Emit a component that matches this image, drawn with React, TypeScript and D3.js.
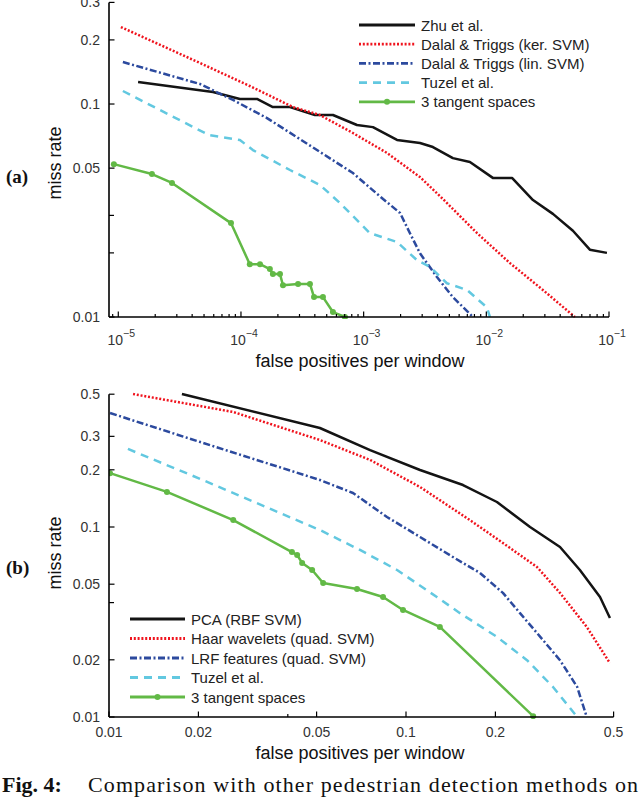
import React from "react";
import * as d3 from "d3";

// ---- panel (a) data: false positives per window vs miss rate ----
const zhuFppw = [1.45e-5, 5.91e-5, 9.8e-5, 1.35e-4, 1.82e-4, 2.51e-4, 4.01e-4, 5.62e-4, 8.82e-4, 1.19e-3, 1.87e-3, 2.88e-3, 3.67e-3, 5.34e-3, 7.35e-3, 1.13e-2, 1.62e-2, 2.4e-2, 3.49e-2, 5.08e-2, 6.98e-2, 9.62e-2];
const zhuMiss = [0.1268, 0.1138, 0.1056, 0.1056, 0.0968, 0.0968, 0.0888, 0.0888, 0.0797, 0.0779, 0.0678, 0.0656, 0.0628, 0.0557, 0.0534, 0.045, 0.045, 0.0354, 0.0305, 0.0254, 0.0207, 0.02];

const kerFppw = [1.05e-5, 4.63e-5, 1.18e-4, 2.65e-4, 4.4e-4, 8.18e-4, 1.55e-3, 2.88e-3, 4.43e-3, 8.38e-3, 1.56e-2, 2.89e-2, 5.27e-2];
const kerMiss = [0.2299, 0.1558, 0.1215, 0.0968, 0.0888, 0.0731, 0.0589, 0.0454, 0.0358, 0.0248, 0.0179, 0.0134, 0.01];

const linFppw = [1.09e-5, 4.63e-5, 8.61e-5, 1.63e-4, 4.4e-4, 8.18e-4, 1.44e-3, 1.98e-3, 2.38e-3, 2.88e-3, 3.96e-3, 5.34e-3, 7.78e-3];
const linMiss = [0.1574, 0.1242, 0.1045, 0.0859, 0.0596, 0.0474, 0.0358, 0.0308, 0.0248, 0.0199, 0.0154, 0.0124, 0.01];

const tuzelAFppw = [1.09e-5, 5.48e-5, 9.8e-5, 1.25e-4, 2.51e-4, 4.4e-4, 6.41e-4, 1.12e-3, 1.87e-3, 2.72e-3, 3.47e-3, 4.77e-3, 6.95e-3, 1.01e-2, 1.07e-2];
const tuzelAMiss = [0.1151, 0.0715, 0.0678, 0.0608, 0.049, 0.0417, 0.0343, 0.0248, 0.0225, 0.0185, 0.0172, 0.0144, 0.0134, 0.0111, 0.01];

const tangentAFppw = [9.2e-6, 1.88e-5, 2.74e-5, 8.29e-5, 1.18e-4, 1.43e-4, 1.72e-4, 1.82e-4, 2.08e-4, 2.2e-4, 2.92e-4, 3.65e-4, 3.94e-4, 4.66e-4, 5.62e-4, 7.04e-4];
const tangentAMiss = [0.0522, 0.0469, 0.0426, 0.0276, 0.0177, 0.0177, 0.0168, 0.0159, 0.0159, 0.0141, 0.0143, 0.0143, 0.0124, 0.0124, 0.01055, 0.01];

// ---- panel (b) data ----
const pcaFppw = [0.0176, 0.0513, 0.0757, 0.1115, 0.1556, 0.2024, 0.2616, 0.33, 0.385, 0.45, 0.486];
const pcaMiss = [0.501, 0.332, 0.254, 0.1995, 0.1663, 0.1354, 0.1, 0.0785, 0.0594, 0.0428, 0.0332];

const haarFppw = [0.01205, 0.0262, 0.0513, 0.0757, 0.1115, 0.164, 0.212, 0.276, 0.33, 0.406, 0.486];
const haarMiss = [0.501, 0.403, 0.287, 0.2254, 0.1624, 0.1088, 0.0824, 0.0616, 0.045, 0.0298, 0.0192];

const lrfFppw = [0.01008, 0.0203, 0.0513, 0.0663, 0.0863, 0.1115, 0.1439, 0.1774, 0.212, 0.242, 0.276, 0.33, 0.377, 0.406];
const lrfMiss = [0.398, 0.28, 0.1767, 0.151, 0.1129, 0.0886, 0.0695, 0.0573, 0.045, 0.0352, 0.0277, 0.0199, 0.0144, 0.01];

const tuzelBFppw = [0.01158, 0.0203, 0.0513, 0.07, 0.0933, 0.127, 0.152, 0.2024, 0.2555, 0.3126, 0.377];
const tuzelBMiss = [0.2575, 0.179, 0.0964, 0.0757, 0.0594, 0.0428, 0.0352, 0.0264, 0.0199, 0.0144, 0.01];

const tangentBFppw = [0.01008, 0.01567, 0.0262, 0.0413, 0.043, 0.0447, 0.0483, 0.0526, 0.0684, 0.0837, 0.0977, 0.13, 0.268];
const tangentBMiss = [0.192, 0.153, 0.1088, 0.0738, 0.0712, 0.0647, 0.0594, 0.0507, 0.0472, 0.0428, 0.0366, 0.0298, 0.0101];

// ---- ticks ----
const aYLabeled = [0.01, 0.05, 0.1, 0.2, 0.3];
const aYMinor = [0.02, 0.03];
const aXExponents = [-5, -4, -3, -2, -1];

const bYLabeled = [0.01, 0.02, 0.05, 0.1, 0.2, 0.3, 0.5];
const bYMinor = [0.04];
const bXLabeled = [0.01, 0.02, 0.05, 0.1, 0.2, 0.5];
const bXMinor = [0.04];

const namesA = ["Zhu et al.", "Dalal & Triggs (ker. SVM)", "Dalal & Triggs (lin. SVM)", "Tuzel et al.", "3 tangent spaces"];
const namesB = ["PCA (RBF SVM)", "Haar wavelets (quad. SVM)", "LRF features (quad. SVM)", "Tuzel et al.", "3 tangent spaces"];

const styles = [
  { color: "#141414", dash: "none", marker: false },
  { color: "#f0141e", dash: "2,1.8", marker: false },
  { color: "#2c4a9e", dash: "7,2.5,2,2.5", marker: false },
  { color: "#62c8e0", dash: "8,6", marker: false },
  { color: "#62b946", dash: "none", marker: true },
];

const sans = "'Liberation Sans', Arial, Helvetica, sans-serif";
const serif = "'Liberation Serif', 'Times New Roman', serif";

type Series = { x: number[]; y: number[] };

const Panel = ({
  id,
  series,
  names,
  xDomain,
  xRange,
  yDomain,
  yRange,
  yLabeled,
  yMinor,
  xLabeled,
  xMinor,
  xTickFormat,
  xTickY,
  xTitleY,
  legend,
  panelLabel,
  panelLabelY,
  yTitleY,
}: any) => {
  const x = d3.scaleLog().domain(xDomain).range(xRange);
  const y = d3.scaleLog().domain(yDomain).range(yRange);
  const [x0, x1] = xRange;
  const [yb, yt] = yRange;
  const line = d3
    .line<[number, number]>()
    .x((d) => x(d[0]))
    .y((d) => y(d[1]));

  return (
    <g>
      <clipPath id={`clip-${id}`}>
        <rect x={x0} y={yt - 2} width={x1 - x0 + 2} height={yb - yt + 4} />
      </clipPath>
      <g clipPath={`url(#clip-${id})`}>
        {series.map((s: Series, i: number) => {
          const pts = s.x.map((v, k) => [v, s.y[k]] as [number, number]);
          const st = styles[i];
          return (
            <g key={i}>
              <path
                d={line(pts) || ""}
                fill="none"
                stroke={st.color}
                strokeWidth={2.5}
                strokeDasharray={st.dash}
                strokeLinejoin="round"
              />
              {st.marker &&
                pts.map((p, k) => (
                  <circle key={k} cx={x(p[0])} cy={y(p[1])} r={3} fill={st.color} />
                ))}
            </g>
          );
        })}
      </g>

      {/* axes */}
      <line x1={x0} y1={yb} x2={x1} y2={yb} stroke="#000" strokeWidth={1.6} />
      <line x1={x0} y1={yb} x2={x0} y2={yt} stroke="#000" strokeWidth={1.6} />

      {xMinor.map((v: number) => (
        <line key={`xm${v}`} x1={x(v)} x2={x(v)} y1={yb} y2={yb - 3} stroke="#000" strokeWidth={1.2} />
      ))}
      {xLabeled.map((v: number) => (
        <g key={`x${v}`}>
          <line x1={x(v)} x2={x(v)} y1={yb} y2={yb - 5.5} stroke="#000" strokeWidth={1.2} />
          {xTickFormat(v, x(v), xTickY)}
        </g>
      ))}
      {yMinor.map((v: number) => (
        <line key={`ym${v}`} x1={x0} x2={x0 + 5} y1={y(v)} y2={y(v)} stroke="#000" strokeWidth={1.2} />
      ))}
      {yLabeled.map((v: number) => (
        <g key={`y${v}`}>
          <line x1={x0} x2={x0 + 5.5} y1={y(v)} y2={y(v)} stroke="#000" strokeWidth={1.2} />
          <text
            x={x0 - 9}
            y={y(v)}
            textAnchor="end"
            dominantBaseline="central"
            fontFamily={sans}
            fontSize={14}
            fill="#333"
          >
            {String(v)}
          </text>
        </g>
      ))}

      <text x={360} y={xTitleY} textAnchor="middle" fontFamily={sans} fontSize={18} fill="#111">
        false positives per window
      </text>
      <text
        transform={`translate(61, ${yTitleY}) rotate(-90)`}
        textAnchor="middle"
        fontFamily={sans}
        fontSize={18}
        fill="#111"
      >
        miss rate
      </text>
      <text x={6} y={panelLabelY} fontFamily={serif} fontWeight="bold" fontSize={19} fill="#111">
        {panelLabel}
      </text>

      {/* legend */}
      {names.map((n: string, i: number) => {
        const ly = legend.y + i * legend.step;
        const st = styles[i];
        return (
          <g key={n}>
            <line
              x1={legend.x1}
              x2={legend.x2}
              y1={ly}
              y2={ly}
              stroke={st.color}
              strokeWidth={2.8}
              strokeDasharray={st.dash}
            />
            {st.marker && <circle cx={(legend.x1 + legend.x2) / 2} cy={ly} r={3} fill={st.color} />}
            <text
              x={legend.x2 + 6}
              y={ly}
              dominantBaseline="central"
              fontFamily={sans}
              fontSize={15}
              fill="#222"
            >
              {n}
            </text>
          </g>
        );
      })}
    </g>
  );
};

const powerTick = (v: number, px: number, py: number) => (
  <text x={px + 3} y={py} textAnchor="middle" fontFamily={sans} fontSize={14} fill="#333">
    10
    <tspan dy={-8} fontSize={10.5}>
      {`\u2212${Math.round(-Math.log10(v))}`}
    </tspan>
  </text>
);

const plainTick = (v: number, px: number, py: number) => (
  <text x={px} y={py} textAnchor="middle" fontFamily={sans} fontSize={14} fill="#333">
    {String(v)}
  </text>
);

// minor log ticks for panel (a): 2..9 x 10^n
const aXMinor = d3.range(-6, -1).flatMap((e) => d3.range(2, 10).map((k) => k * Math.pow(10, e)));

export default function App() {
  const seriesA: Series[] = [
    { x: zhuFppw, y: zhuMiss },
    { x: kerFppw, y: kerMiss },
    { x: linFppw, y: linMiss },
    { x: tuzelAFppw, y: tuzelAMiss },
    { x: tangentAFppw, y: tangentAMiss },
  ];
  const seriesB: Series[] = [
    { x: pcaFppw, y: pcaMiss },
    { x: haarFppw, y: haarMiss },
    { x: lrfFppw, y: lrfMiss },
    { x: tuzelBFppw, y: tuzelBMiss },
    { x: tangentBFppw, y: tangentBMiss },
  ];
  const aXDomain: [number, number] = [8.4e-6, 0.1];

  return (
    <svg
      width={640}
      height={797}
      style={{ position: "absolute", left: 0, top: 0, background: "#fff" }}
    >
      <Panel
        id="a"
        series={seriesA}
        names={namesA}
        xDomain={aXDomain}
        xRange={[109, 609]}
        yDomain={[0.01, 0.3]}
        yRange={[317, 2.4]}
        yLabeled={aYLabeled}
        yMinor={aYMinor}
        xLabeled={aXExponents.map((e) => Math.pow(10, e))}
        xMinor={aXMinor.filter((v) => v >= aXDomain[0] && v <= aXDomain[1])}
        xTickFormat={powerTick}
        xTickY={345}
        xTitleY={367}
        legend={{ x1: 359, x2: 415, y: 25, step: 19.2 }}
        panelLabel="(a)"
        panelLabelY={183}
        yTitleY={163}
      />
      <Panel
        id="b"
        series={seriesB}
        names={namesB}
        xDomain={[0.01, 0.5]}
        xRange={[109, 613.6]}
        yDomain={[0.01, 0.5]}
        yRange={[717, 394.2]}
        yLabeled={bYLabeled}
        yMinor={bYMinor}
        xLabeled={bXLabeled}
        xMinor={bXMinor}
        xTickFormat={plainTick}
        xTickY={737}
        xTitleY={759}
        legend={{ x1: 130, x2: 185, y: 619, step: 19.5 }}
        panelLabel="(b)"
        panelLabelY={574}
        yTitleY={553}
      />
      <text x={2} y={792} fontFamily={serif} fontWeight="bold" fontSize={22} fill="#111">
        Fig. 4:
      </text>
      <text
        x={88}
        y={792}
        fontFamily={serif}
        fontSize={22}
        fill="#111"
        textLength={550}
        lengthAdjust="spacing"
      >
        Comparison with other pedestrian detection methods on
      </text>
    </svg>
  );
}
